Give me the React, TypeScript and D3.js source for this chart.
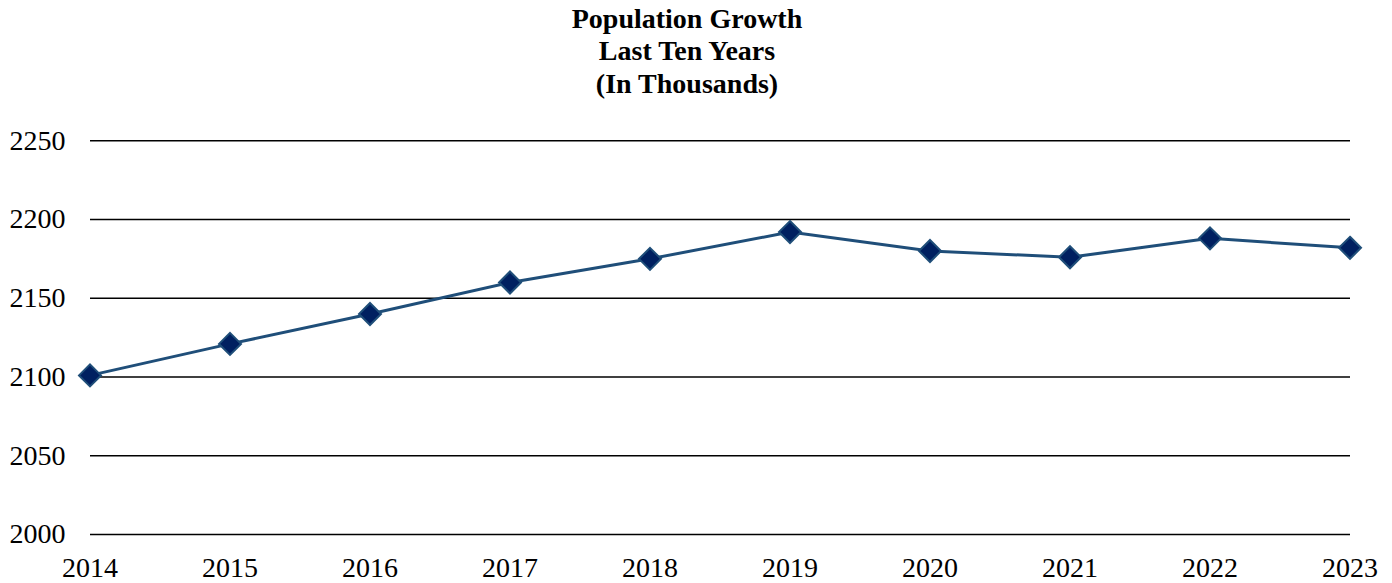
import React from "react";
import * as d3 from "d3";

const years = ["2014","2015","2016","2017","2018","2019","2020","2021","2022","2023"];
const population = [2101, 2121, 2140, 2160, 2175, 2192, 2180, 2176, 2188, 2182];
const yTicks = [2000, 2050, 2100, 2150, 2200, 2250];
const titleLines = ["Population Growth", "Last Ten Years", "(In Thousands)"];

export default function App() {
  const W = 1392, H = 583;
  const x = d3.scalePoint<string>().domain(years).range([90, 1350]);
  const y = d3.scaleLinear().domain([2000, 2250]).range([534.5, 140.7]);
  const line = d3.line<number>().x((_, i) => x(years[i])!).y(d => y(d));
  const font = "'Liberation Serif', 'Times New Roman', serif";
  const s = 11;
  return (
    <svg width={W} height={H} style={{ position: "absolute", left: 0, top: 0 }} fontFamily={font}>
      {titleLines.map((t, i) => (
        <text key={t} x={687} y={27.5 + i * 32.7} textAnchor="middle" fontWeight="bold" fontSize={28} fill="#000">{t}</text>
      ))}
      {yTicks.map(t => (
        <g key={t}>
          <line x1={90} x2={1350} y1={y(t)} y2={y(t)} stroke="#000" strokeWidth={1.6} />
          <text x={65.5} y={y(t) + 8.8} textAnchor="end" fontSize={28} fill="#000">{t}</text>
        </g>
      ))}
      {years.map(yr => (
        <text key={yr} x={x(yr)} y={577} textAnchor="middle" fontSize={28} fill="#000">{yr}</text>
      ))}
      <path d={line(population) || ""} fill="none" stroke="#1F4E79" strokeWidth={3} />
      {population.map((v, i) => {
        const cx = x(years[i])!, cy = y(v);
        return (
          <path key={i} d={`M${cx},${cy - s}L${cx + s},${cy}L${cx},${cy + s}L${cx - s},${cy}Z`}
            fill="#002060" stroke="#1F4E79" strokeWidth={2} />
        );
      })}
    </svg>
  );
}
